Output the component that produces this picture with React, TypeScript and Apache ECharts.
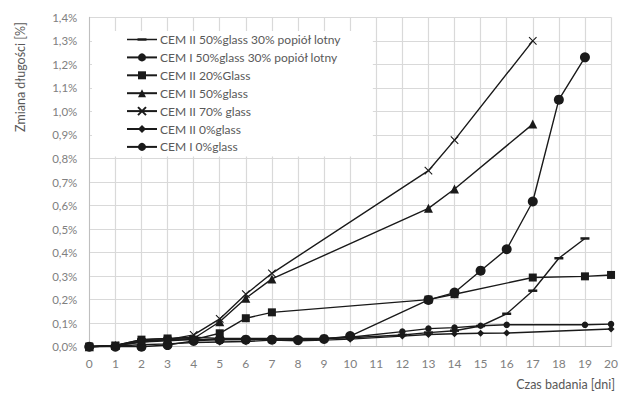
import React, { useEffect, useRef } from "react";
import * as echarts from "echarts";

const seriesNames = [
  "CEM II 50%glass 30% popiół lotny",
  "CEM I 50%glass 30% popiół lotny",
  "CEM II 20%Glass",
  "CEM II 50%glass",
  "CEM II 70% glass",
  "CEM II 0%glass",
  "CEM I 0%glass",
];

// days and values (%) per series
const daysA = [0, 1, 2, 3, 4, 5, 6, 7, 8, 9, 10, 12, 13, 14, 15, 16, 17, 18, 19];
const valsA = [0, 0.005, 0.03, 0.035, 0.04, 0.035, 0.035, 0.035, 0.035, 0.035, 0.038, 0.05, 0.06, 0.068, 0.088, 0.14, 0.238, 0.376, 0.46];

const daysB = [0, 1, 2, 3, 4, 5, 6, 7, 8, 9, 10, 13, 14, 15, 16, 17, 18, 19];
const valsB = [0, 0, 0, 0.007, 0.025, 0.03, 0.03, 0.03, 0.028, 0.033, 0.045, 0.199, 0.23, 0.323, 0.414, 0.617, 1.05, 1.23];

const daysC = [0, 1, 2, 3, 4, 5, 6, 7, 13, 14, 17, 19, 20];
const valsC = [0, 0.005, 0.03, 0.035, 0.03, 0.057, 0.121, 0.146, 0.2, 0.223, 0.294, 0.299, 0.305];

const daysD = [0, 1, 2, 3, 4, 5, 6, 7, 13, 14, 17];
const valsD = [0, 0.005, 0.025, 0.03, 0.035, 0.106, 0.206, 0.288, 0.588, 0.67, 0.946];

const daysE = [0, 1, 2, 3, 4, 5, 6, 7, 13, 14, 17];
const valsE = [0, 0.005, 0.02, 0.03, 0.05, 0.118, 0.223, 0.312, 0.748, 0.878, 1.3];

const daysF = [0, 1, 2, 3, 4, 5, 6, 7, 8, 9, 10, 12, 13, 14, 15, 16, 20];
const valsF = [0, 0.003, 0.008, 0.012, 0.018, 0.02, 0.022, 0.028, 0.025, 0.028, 0.032, 0.045, 0.052, 0.055, 0.057, 0.058, 0.075];

const daysG = [0, 1, 2, 3, 4, 5, 6, 7, 8, 9, 10, 12, 13, 14, 15, 16, 19, 20];
const valsG = [0, 0.005, 0.02, 0.025, 0.03, 0.03, 0.03, 0.035, 0.03, 0.035, 0.04, 0.064, 0.077, 0.081, 0.089, 0.093, 0.093, 0.096];

const xAxisTitle = "Czas badania [dni]";
const yAxisTitle = "Zmiana długości [%]";

const FONT = "Lato, 'Open Sans', sans-serif";
const INK = "#1a1a1a";

function pairs(days: number[], vals: number[]) {
  return days.map((d, i) => [d, vals[i]]);
}

export default function App() {
  const ref = useRef<HTMLDivElement>(null);

  useEffect(() => {
    if (!ref.current) return;
    const chart = echarts.init(ref.current, null, { renderer: "svg" });

    const symbols: any[] = [
      { symbol: "rect", symbolSize: [9, 2.5] },
      { symbol: "circle", symbolSize: 10 },
      { symbol: "rect", symbolSize: 8 },
      { symbol: "triangle", symbolSize: 9 },
      { symbol: "path://M0,0L10,10M10,0L0,10", symbolSize: 7.5 },
      { symbol: "diamond", symbolSize: 7 },
      { symbol: "circle", symbolSize: 6.5 },
    ];
    const datasets = [
      pairs(daysA, valsA),
      pairs(daysB, valsB),
      pairs(daysC, valsC),
      pairs(daysD, valsD),
      pairs(daysE, valsE),
      pairs(daysF, valsF),
      pairs(daysG, valsG),
    ];

    const series = seriesNames.map((name, i) => ({
      name,
      type: "line",
      data: datasets[i],
      symbol: symbols[i].symbol,
      symbolSize: symbols[i].symbolSize,
      showAllSymbol: true,
      lineStyle: { color: INK, width: 1.4 },
      itemStyle: {
        color: INK,
        borderColor: INK,
        borderWidth: i === 4 ? 1.1 : 0,
      },
      emphasis: { disabled: true },
      z: 3,
    }));

    const dashLegendIcon =
      "path://M0,0L0.01,0L0,0ZM0,4.3H30V5.7H0ZM10.5,3.7H19.5V6.3H10.5ZM30,10L29.99,10L30,10Z";
    const legendData = seriesNames.map((name, i) =>
      i === 0 ? { name, icon: dashLegendIcon } : { name }
    );

    chart.setOption({
      animation: false,
      backgroundColor: "#fff",
      grid: { left: 89.3, right: 8.7, top: 17.3, bottom: 46.3, containLabel: false },
      legend: {
        orient: "vertical",
        left: 92,
        top: 31,
        padding: [1.5, 32, 2.5, 34],
        backgroundColor: "#fff",
        itemWidth: 30,
        itemHeight: 10,
        itemGap: 3.9,
        data: legendData,
        textStyle: {
          fontFamily: FONT,
          fontSize: 12,
          color: "#595959",
          lineHeight: 14,
          padding: [0, 0, 0, -2],
        },
        z: 5,
      },
      xAxis: {
        type: "value",
        min: 0,
        max: 20,
        interval: 1,
        axisLine: { show: true, lineStyle: { color: "#bfbfbf", width: 1 } },
        axisTick: { show: false },
        axisLabel: {
          fontFamily: FONT,
          fontSize: 12,
          color: "#808080",
          margin: 11,
        },
        splitLine: { show: true, lineStyle: { color: "#d9d9d9", width: 1.2 } },
      },
      yAxis: {
        type: "value",
        min: 0,
        max: 1.4,
        interval: 0.1,
        axisLine: { show: true, lineStyle: { color: "#bfbfbf", width: 1 } },
        axisTick: { show: false },
        axisLabel: {
          fontFamily: FONT,
          fontSize: 11.5,
          color: "#808080",
          margin: 12,
          formatter: (v: number) => v.toFixed(1).replace(".", ",") + "%",
        },
        splitLine: { show: true, lineStyle: { color: "#d9d9d9", width: 1.2 } },
      },
      graphic: [
        {
          type: "text",
          x: 20,
          y: 77,
          rotation: Math.PI / 2,
          style: {
            text: yAxisTitle,
            fontFamily: FONT,
            fontSize: 12.5,
            fill: "#595959",
            align: "center",
            verticalAlign: "middle",
          },
        },
        {
          type: "text",
          x: 615,
          y: 384,
          style: {
            text: xAxisTitle,
            fontFamily: FONT,
            fontSize: 12.5,
            fill: "#595959",
            align: "right",
            verticalAlign: "middle",
          },
        },
      ],
      series,
    });

    return () => chart.dispose();
  }, []);

  return (
    <div
      ref={ref}
      style={{ position: "fixed", left: 0, top: 0, width: 621, height: 393 }}
    />
  );
}
